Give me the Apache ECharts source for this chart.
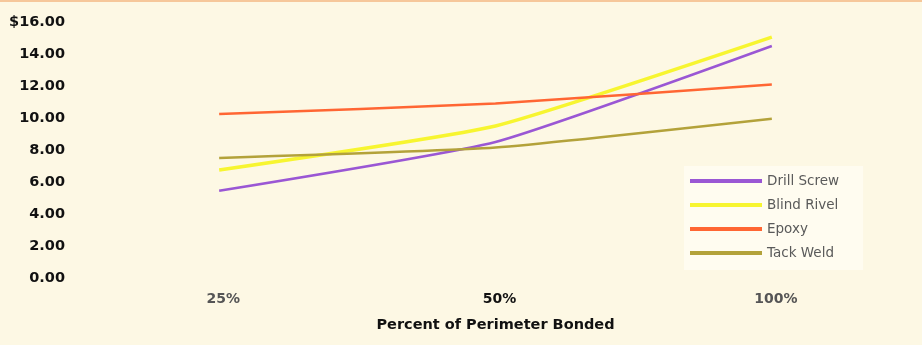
<!DOCTYPE html>
<html>
<head>
<meta charset="utf-8">
<script src="https://cdn.jsdelivr.net/npm/echarts@6/dist/echarts.min.js"></script>
<style>
html,body{margin:0;padding:0;background:#fdf8e4;}
#chart{width:922px;height:345px;}
</style>
</head>
<body>
<div id="chart"></div>
<script>
var categories = ['25%', '50%', '100%'];
var drillScrew = [5.45, 8.5, 14.5];
var blindRivel = [6.75, 9.5, 15.05];
var epoxy = [10.25, 10.9, 12.1];
var tackWeld = [7.5, 8.15, 9.95];
var seriesNames = ['Drill Screw', 'Blind Rivel', 'Epoxy', 'Tack Weld'];
var seriesColors = ['#9a57d4', '#f7f530', '#ff6633', '#b3a23a'];
var seriesData = [drillScrew, blindRivel, epoxy, tackWeld];

var chart = echarts.init(document.getElementById('chart'));
chart.setOption({
  backgroundColor: '#fdf8e4',
  animation: false,
  graphic: [{
    type: 'rect', left: 0, top: 0,
    shape: {width: 922, height: 2},
    style: {fill: '#f6c79a'}
  }],
  grid: {left: 81, right: 12, top: 22, bottom: 67},
  legend: {
    orient: 'vertical',
    left: 684, top: 166,
    itemWidth: 72, itemHeight: 4, itemGap: 10,
    padding: [8, 24, 10, 6],
    backgroundColor: '#fffcf0',
    icon: 'rect',
    textStyle: {color: '#5a5a5a', fontSize: 13.5, fontFamily: 'DejaVu Sans', padding: [0,0,0,0]},
    data: seriesNames
  },
  xAxis: {
    type: 'category',
    data: categories,
    boundaryGap: true,
    axisLine: {show: false},
    axisTick: {show: false},
    axisLabel: {
      color: function (v) { return v === '50%' ? '#111' : '#555'; },
      fontWeight: 'bold', fontSize: 14, fontFamily: 'DejaVu Sans', margin: 14,
      padding: [0, 0, 0, 8]
    },
    name: 'Percent of Perimeter Bonded',
    nameLocation: 'middle',
    nameGap: 40,
    nameTextStyle: {color: '#111', fontWeight: 'bold', fontSize: 14.5, fontFamily: 'DejaVu Sans'}
  },
  yAxis: {
    type: 'value',
    min: 0, max: 16, interval: 2,
    axisLine: {show: false},
    axisTick: {show: false},
    splitLine: {show: false},
    axisLabel: {
      color: '#111', fontWeight: 'bold', fontSize: 14.5, fontFamily: 'DejaVu Sans', margin: 16,
      formatter: function (v) { return v === 16 ? '$16.00' : v.toFixed(2); }
    }
  },
  series: seriesData.map(function (d, i) {
    return {
      name: seriesNames[i],
      type: 'line',
      data: d,
      smooth: 0.15,
      symbol: 'none',
      color: seriesColors[i],
      lineStyle: {width: i === 1 ? 3.5 : 2.5, color: seriesColors[i]}
    };
  })
});
</script>
</body>
</html>
